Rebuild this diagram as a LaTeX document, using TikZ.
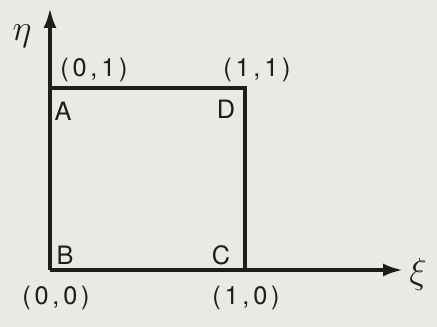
\documentclass[tikz,border=0pt]{standalone}
\usepackage{fontspec}
\setsansfont{TeX Gyre Heros}
\usepackage{xcolor}
\usepackage{tikz}
\usetikzlibrary{arrows.meta,positioning}
\definecolor{paper}{RGB}{232,234,228}
\definecolor{ink}{RGB}{30,30,28}
\tikzset{
  cornerlabel/.style={font=\sffamily\Large,text=ink,inner sep=1pt},
  pointlabel/.style={font=\sffamily\Large\addfontfeature{LetterSpace=15},text=ink,inner sep=1pt},
  axislabel/.style={font=\huge,text=ink,inner sep=1pt},
  axisarrow/.style={-{Latex[length=4mm,width=2.6mm]},line width=2pt,draw=ink},
  squareedge/.style={line width=2pt,draw=ink,line join=miter}
}
\begin{document}
\begin{tikzpicture}[x=0.02cm,y=-0.02cm]
  \fill[paper] (0,0) rectangle (437,327);
  % corners of the unit square
  \coordinate (B) at (50,270);
  \coordinate (A) at (50,88);
  \coordinate (D) at (245,88);
  \coordinate (C) at (245,270);
  \coordinate (etatip) at (50,8);
  \coordinate (xitip) at (403,270);
  \draw[squareedge] (A) -- (D) -- (C);
  \draw[axisarrow] (B) -- (etatip);
  \draw[axisarrow] (B) -- (xitip);
  \node[axislabel] (eta) at (22,36) {$\eta$};
  \node[axislabel] (xi) at (418,274) {$\xi$};
  \node[pointlabel] (pA) at (94,70) {(0,1)};
  \node[pointlabel] (pD) at (257,70) {(1,1)};
  \node[pointlabel] (pB) at (56,298) {(0,0)};
  \node[pointlabel] (pC) at (246,298) {(1,0)};
  \node[cornerlabel] (lA) at (63,111) {A};
  \node[cornerlabel] (lD) at (226,109) {D};
  \node[cornerlabel] (lB) at (65,255) {B};
  \node[cornerlabel] (lC) at (221,255) {C};
\end{tikzpicture}
\end{document}
